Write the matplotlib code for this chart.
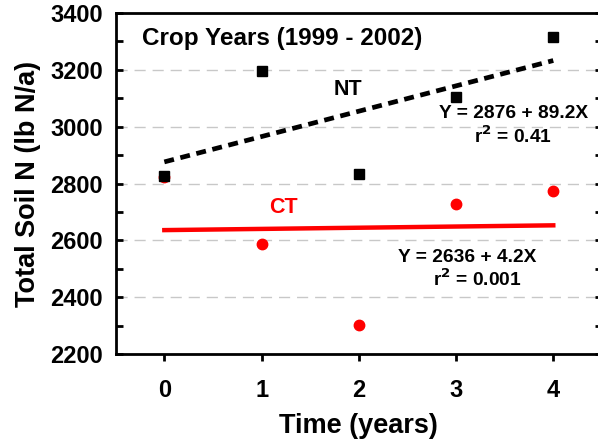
import matplotlib.pyplot as plt
from matplotlib.ticker import MultipleLocator

plt.rcParams['font.family'] = 'Liberation Sans'
plt.rcParams['font.weight'] = 'bold'

# Measured soil N by year
years = [0, 1, 2, 3, 4]
nt_soil_n = [2826, 3196, 2832, 3106, 3317]
ct_soil_n = [2824, 2588, 2303, 2729, 2774]

# Regression fits (intercept, slope)
nt_fit = (2876, 89.2)
ct_fit = (2636, 4.2)
fit_x = [0, 4]

fig = plt.figure(figsize=(5.98, 4.44), dpi=100)
ax = fig.add_axes([0.1935, 0.2027, 0.813, 0.768])

# Regression lines
ax.plot(fit_x, [nt_fit[0] + nt_fit[1] * x for x in fit_x], color='black',
        linestyle=(0, (2.1, 1.4)), linewidth=3.4, zorder=3)
ax.plot(fit_x, [ct_fit[0] + ct_fit[1] * x for x in fit_x], color='red',
        linewidth=3.2, zorder=3)

# Data points
ax.plot(years, ct_soil_n, 'o', color='red', markersize=7.5, zorder=4)
ax.plot(years, nt_soil_n, 's', color='black', markersize=6.5, zorder=5)

ax.set_xlim(-0.5, 4.5)
ax.set_ylim(2200, 3400)
ax.set_xticks(years)
ax.yaxis.set_major_locator(MultipleLocator(200))
ax.yaxis.set_minor_locator(MultipleLocator(100))

ax.grid(axis='y', color='#c8c8c8', linestyle=(0, (8, 5)), linewidth=1)
ax.set_axisbelow(True)

for side in ['left', 'bottom', 'top', 'right']:
    ax.spines[side].set_linewidth(2)

ax.tick_params(axis='y', which='both', direction='in', left=True, right=True,
               width=2, labelsize=17, pad=9)
ax.tick_params(axis='y', which='major', length=5)
ax.tick_params(axis='y', which='minor', length=5)
ax.tick_params(axis='x', direction='out', length=5, width=2, labelsize=17, pad=13)

ax.set_xlabel('Time (years)', fontsize=19.5, fontweight='bold', labelpad=8)
ax.set_ylabel('Total Soil N (lb N/a)', fontsize=19.5, fontweight='bold', labelpad=7)

# Annotations
ax.text(0.055, 0.925, 'Crop Years (1999 - 2002)', transform=ax.transAxes,
        fontsize=17.5, ha='left', va='center')
ax.text(1.89, 3131, 'NT', fontsize=15.5, ha='center', va='center')
ax.text(1.22, 2716, 'CT', fontsize=15.5, ha='center', va='center', color='red')
ax.text(3.59, 3045, 'Y = 2876 + 89.2X', fontsize=13.8, ha='center', va='center')
ax.text(3.59, 2965, 'r$^{\\mathbf{2}}$ = 0.41', fontsize=13.8, ha='center', va='center')
ax.text(3.11, 2540, 'Y = 2636 + 4.2X', fontsize=13.8, ha='center', va='center')
ax.text(3.22, 2463, 'r$^{\\mathbf{2}}$ = 0.001', fontsize=13.8, ha='center', va='center')

plt.savefig('out.png', dpi=100)
